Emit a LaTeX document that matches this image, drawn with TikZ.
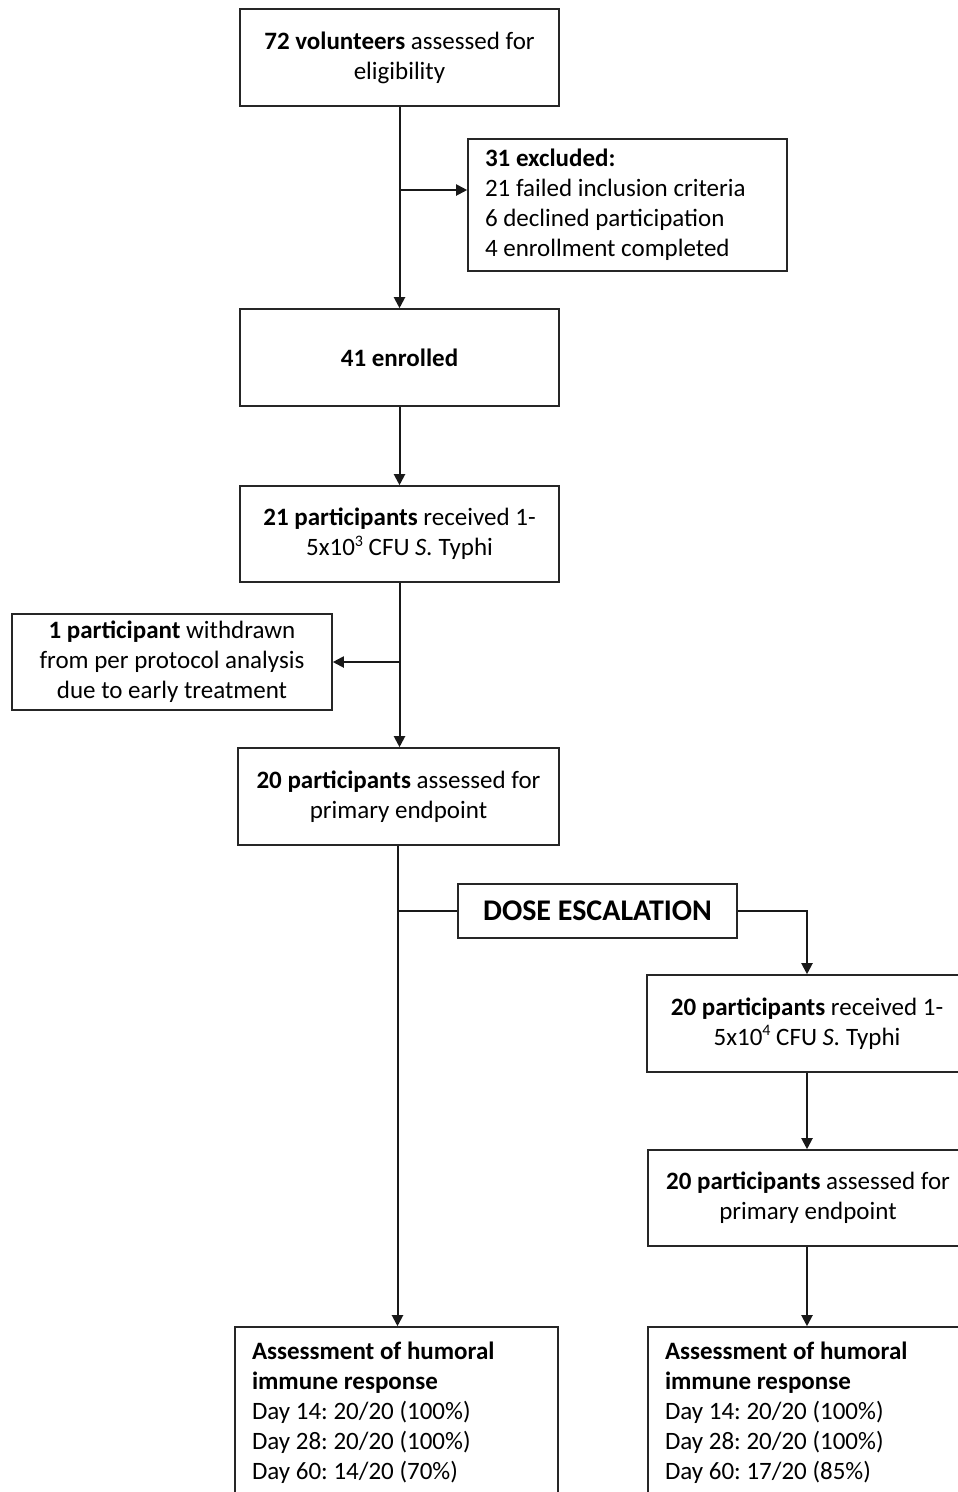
\documentclass[tikz,border=0pt]{standalone}
\usepackage{fontspec}
\setmainfont{Carlito}
\usetikzlibrary{arrows.meta}
\newcommand{\supx}[1]{\raisebox{0.38em}{\fontsize{16}{16}\selectfont #1}}
\begin{document}
\begin{tikzpicture}[x=1pt,y=-1pt,
  box/.style={draw=black!85, line width=1.6pt, rectangle, align=center, inner sep=0pt,
    font=\fontsize{25}{30}\selectfont\frenchspacing},
  lbox/.style={box, align=flush left, inner xsep=17pt, inner ysep=0pt},
  arr/.style={line width=2pt, draw=black!90, -{Triangle[length=11pt,width=11pt]}},
  ln/.style={line width=2pt, draw=black!90}]
\useasboundingbox (0,0) rectangle (958,1492);
\clip (0,0) rectangle (958,1492);
\fill[white] (0,0) rectangle (958,1492);

\node[box, minimum width=319pt, minimum height=97pt] (v) at (399.5,57.5)
  {\textbf{72 volunteers} assessed for\\eligibility};
\node[lbox, text width=285pt, minimum height=132pt] (ex) at (627.5,205)
  {\textbf{31 excluded:}\\21 failed inclusion criteria\\6 declined participation\\4 enrollment completed};
\node[box, minimum width=319pt, minimum height=97pt] (en) at (399.5,357.5)
  {\textbf{41 enrolled}};
\node[box, minimum width=319pt, minimum height=96pt] (r21) at (399.5,534)
  {\textbf{21 participants} received 1-\\5x10\supx{3} CFU \textit{S.} Typhi};
\node[box, minimum width=320pt, minimum height=96pt] (wd) at (172,662)
  {\textbf{1 participant} withdrawn\\from per protocol analysis\\due to early treatment};
\node[box, minimum width=321pt, minimum height=97pt] (a20) at (398.5,796.5)
  {\textbf{20 participants} assessed for\\primary endpoint};
\node[box, minimum width=279pt, minimum height=54pt, font=\fontsize{30}{30}\selectfont\bfseries] (de) at (597.5,911)
  {DOSE ESCALATION};
\node[box, minimum width=320pt, minimum height=97pt] (r20) at (807,1023.5)
  {\textbf{20 participants} received 1-\\5x10\supx{4} CFU \textit{S.} Typhi};
\node[box, minimum width=320pt, minimum height=96pt] (a20b) at (808,1198)
  {\textbf{20 participants} assessed for\\primary endpoint};
\node[lbox, text width=289pt, minimum height=172pt] (hl) at (396.5,1413)
  {\textbf{Assessment of humoral}\\\textbf{immune response}\\Day 14: 20/20 (100\%)\\Day 28: 20/20 (100\%)\\Day 60: 14/20 (70\%)};
\node[lbox, text width=286pt, minimum height=172pt] (hr) at (808,1413)
  {\textbf{Assessment of humoral}\\\textbf{immune response}\\Day 14: 20/20 (100\%)\\Day 28: 20/20 (100\%)\\Day 60: 17/20 (85\%)};

\coordinate (j1) at (399.5,190);
\coordinate (j2) at (399.5,662);
\coordinate (j3) at (397.5,911);
\coordinate (k) at (807,0);

\draw[arr] (v.south) -- (en.north);
\draw[arr] (j1) -- (ex.west |- j1);
\draw[arr] (en.south) -- (r21.north);
\draw[arr] (r21.south) -- (r21.south |- a20.north);
\draw[arr] (j2) -- (wd.east);
\draw[arr] (j3 |- a20.south) -- (j3 |- hl.north);
\draw[ln] (j3) -- (de.west);
\draw[arr] (de.east) -| (r20.north);
\draw[arr] (k |- r20.south) -- (k |- a20b.north);
\draw[arr] (k |- a20b.south) -- (k |- hr.north);
\end{tikzpicture}
\end{document}
